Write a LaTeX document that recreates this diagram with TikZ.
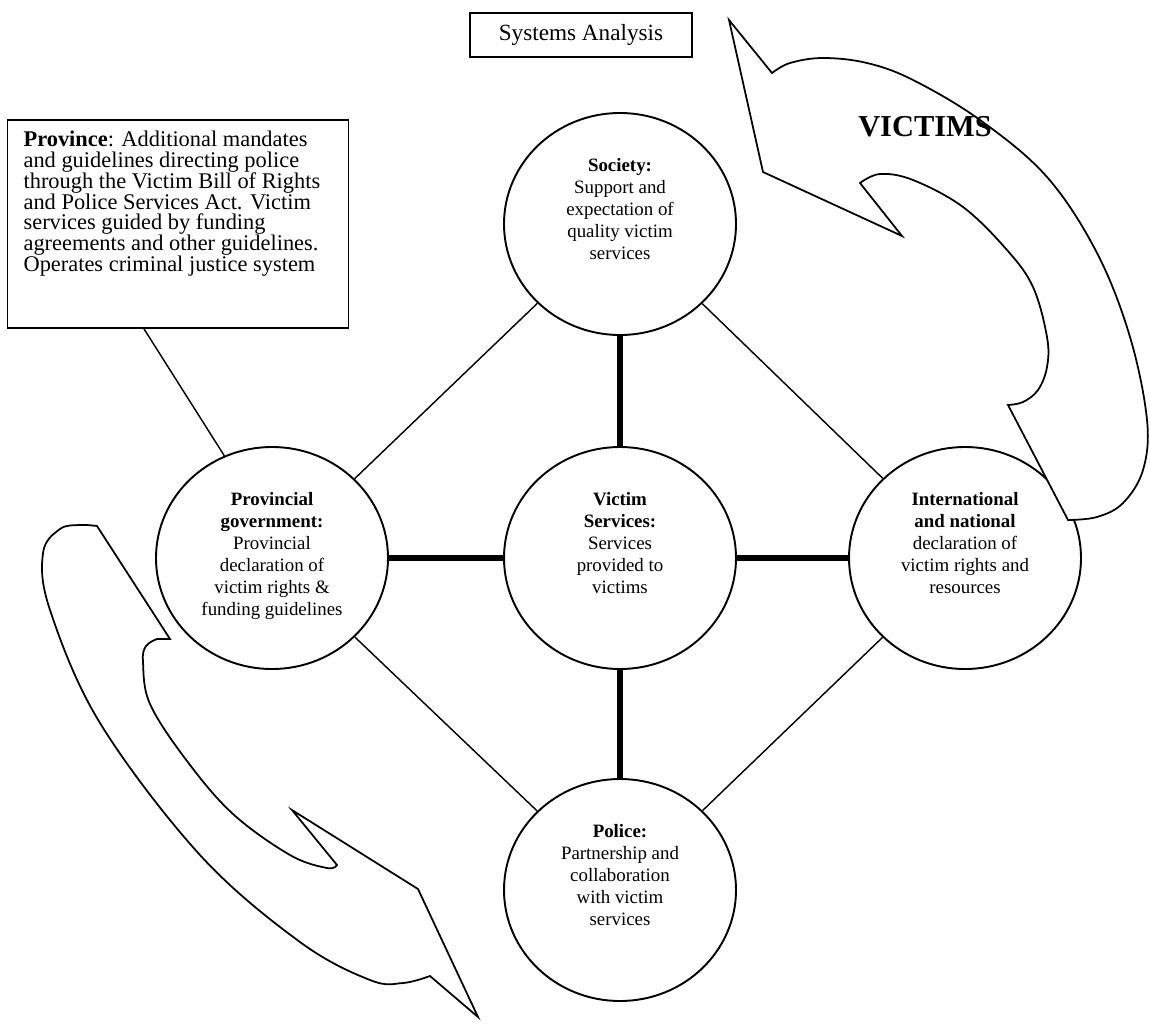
\documentclass[tikz,border=0pt]{standalone}
\usepackage{fontspec}
\setmainfont{Liberation Serif}
\usetikzlibrary{shapes.geometric}
\newcommand{\ctext}[1]{\parbox[c][82pt][t]{92pt}{\centering #1}}

\begin{document}
\begin{tikzpicture}[x=0.625pt, y=-0.625pt,
  actor/.style={draw, line width=1.2pt, ellipse, fill=white, minimum width=145pt,
                minimum height=138.75pt, inner sep=2pt,
                font=\fontsize{11.8}{13.75}\selectfont},
  link/.style={line width=0.9pt},
  tie/.style={line width=3.4pt},
  bigarrow/.style={draw, line width=1.1pt, fill=white, line join=miter}]
\useasboundingbox (0,0) rectangle (1150,1024);

% header and province box
\node[draw, line width=1pt, minimum width=138.75pt, minimum height=27.5pt,
      font=\fontsize{14.5}{17}\selectfont] (sysan) at (581,35) {Systems Analysis};
\node[draw, line width=1pt, inner xsep=10pt, inner ysep=7pt,
      font=\fontsize{14}{13}\selectfont] (provbox) at (178,224)
  {\parbox[c][116pt][t]{193pt}{\raggedright \textbf{Province}: Additional mandates\\
   and guidelines directing police\\ through the Victim Bill of Rights\\
   and Police Services Act. Victim\\ services guided by funding\\
   agreements and other guidelines.\\ Operates criminal justice system}};

% the five circles
\node[actor] (society) at (620,224)
  {\ctext{\textbf{Society:}\\ Support and\\ expectation of\\ quality victim\\ services}};
\node[actor] (provgov) at (272,558)
  {\ctext{\textbf{Provincial}\\ \textbf{government:}\\ Provincial\\ declaration of\\
   victim rights \&\\ funding guidelines}};
\node[actor] (vs) at (620,558)
  {\ctext{\textbf{Victim}\\ \textbf{Services:}\\ Services\\ provided to\\ victims}};
\node[actor] (intl) at (965,558)
  {\ctext{\textbf{International}\\ \textbf{and national}\\ declaration of\\
   victim rights and\\ resources}};
\node[actor] (police) at (620,890)
  {\ctext{\textbf{Police:}\\ Partnership and\\ collaboration\\ with victim\\ services}};

% connectors
\draw[link] (provbox.252) -- (provgov.115);
\draw[link] (society) -- (provgov);
\draw[link] (society) -- (intl);
\draw[link] (provgov) -- (police);
\draw[link] (intl) -- (police);
\draw[tie] (provgov) -- (vs);
\draw[tie] (vs) -- (intl);
\draw[tie] (society) -- (vs);
\draw[tie] (vs) -- (police);

% curved block arrows
\draw[bigarrow] (729,20) -- (772,73)
  -- plot[smooth, tension=0.6] coordinates {(772,73) (790,63) (823,58) (867,63)
     (913,80) (980,120) (1047,177) (1097,253) (1130,337) (1147,420) (1143,470)
     (1123,503) (1097,517) (1068,520)}
  -- (1008,405)
  -- plot[smooth, tension=0.6] coordinates {(1008,405) (1023,402) (1038,390)
     (1047,367) (1047,337) (1033,287) (1007,250) (963,207) (913,180) (880,174)
     (860,183)}
  -- (902,236) -- (763,172) -- cycle;
\draw[bigarrow] (97,526) -- (170,639) -- (157,639)
  -- plot[smooth, tension=0.6] coordinates {(157,639) (146,646) (143,662)
     (150,704) (187,761) (233,814) (290,855) (327,868) (337,865)}
  -- (292,810) -- (418,889) -- (478,1017) -- (430,976)
  -- plot[smooth, tension=0.6] coordinates {(430,976) (403,983) (370,980)
     (300,942) (200,855) (100,723) (50,610) (43,553) (60,529) (80,525) (97,526)}
  -- cycle;

\node[font=\fontsize{19}{22}\selectfont\bfseries] (victims) at (925,127) {VICTIMS};
\end{tikzpicture}
\end{document}
